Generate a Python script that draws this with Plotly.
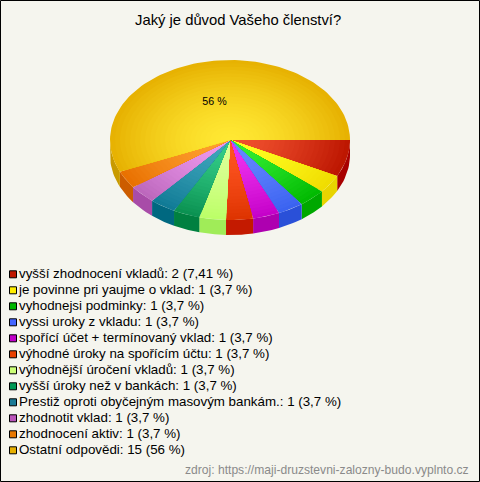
import math
import plotly.graph_objects as go

labels = ["vyšší zhodnocení vkladů", "je povinne pri yaujme o vklad", "vyhodnejsi podminky",
          "vyssi uroky z vkladu", "spořící účet + termínovaný vklad", "výhodné úroky na spořícím účtu",
          "výhodnější úročení vkladů", "vyšší úroky než v bankách",
          "Prestiž oproti obyčejným masovým bankám.", "zhodnotit vklad", "zhodnocení aktiv", "Ostatní odpovědi"]
counts = [2, 1, 1, 1, 1, 1, 1, 1, 1, 1, 1, 15]
shares = ["7,41 %", "3,7 %", "3,7 %", "3,7 %", "3,7 %", "3,7 %", "3,7 %", "3,7 %", "3,7 %", "3,7 %", "3,7 %", "56 %"]
# slice sizes as drawn in the picture, in degrees
drawn_sweeps = [26.7, 13.3, 13.3, 12.6, 13.0, 13.0, 12.9, 13.0, 12.7, 13.4, 12.7, 203.4]
inner_colors = ["#f0502e", "#ffff22", "#33ee33", "#6688ff", "#ee33ee", "#ff5522", "#ddff99", "#33cc88",
                "#3fa5bb", "#ee99ee", "#ffa030", "#ffe833"]
outer_colors = ["#bb1500", "#f0dc00", "#00b800", "#3a62f0", "#c400c8", "#dd3300", "#bbff66", "#0a9050",
                "#107a95", "#bb66bb", "#e87000", "#e6b000"]
side_colors = ["#a80000", "#e8d400", "#00a800", "#2a50d8", "#ae00b0", "#c41a00", "#a0ec58", "#008040",
               "#006880", "#a84ca8", "#cc5c00", "#c89a00"]
swatch_colors = ["#c01800", "#ffee00", "#00b800", "#4466ff", "#c000c8", "#e84000", "#ccff77", "#009955",
                 "#1a7a95", "#bb55bb", "#e87800", "#e6b000"]
title = "Jaký je důvod Vašeho členství?"
source = "zdroj: https://maji-druzstevni-zalozny-budo.vyplnto.cz"
big_label = "56 %"

CX, CY, RX, RY, DEPTH = 230, 140, 120, 80, 15
BANDS = 24
BG = "#f5f5ee"


def mix(a, b, t):
    ca = [int(a[i:i + 2], 16) for i in (1, 3, 5)]
    cb = [int(b[i:i + 2], 16) for i in (1, 3, 5)]
    return "rgb(%d,%d,%d)" % tuple(round(p + (q - p) * t) for p, q in zip(ca, cb))


def arc(a0, a1, frac, dy=0.0):
    n = max(2, int(abs(a1 - a0) / 2) + 2)
    pts = [a0 + (a1 - a0) * i / (n - 1) for i in range(n)]
    return ([CX + RX * frac * math.cos(math.radians(a)) for a in pts],
            [CY + dy + RY * frac * math.sin(math.radians(a)) for a in pts])


fig = go.Figure()


def poly(xs, ys, color):
    fig.add_trace(go.Scatter(x=xs, y=ys, mode="lines", fill="toself", fillcolor=color,
                             line=dict(color=color, width=0), hoverinfo="skip", showlegend=False))


edges = [0.0]
for s in drawn_sweeps:
    edges.append(edges[-1] + s)

for i in range(len(drawn_sweeps)):
    a0, a1 = edges[i], min(edges[i + 1], 180.0)
    if a1 > a0:
        x0, y0 = arc(a0, a1, 1.0)
        x1, y1 = arc(a0, a1, 1.0, DEPTH)
        poly(x0 + x1[::-1] + [x0[0]], y0 + y1[::-1] + [y0[0]], side_colors[i])

for i in range(len(drawn_sweeps)):
    a0, a1 = edges[i], edges[i + 1]
    for b in range(BANDS, 0, -1):
        f = b / BANDS
        xa, ya = arc(a0, a1, f)
        color = mix(inner_colors[i], outer_colors[i], ((b - 0.5) / BANDS) ** 1.5)
        poly([CX] + xa + [CX], [CY] + ya + [CY], color)

fig.add_trace(go.Scatter(x=[214.5], y=[102], mode="text", text=[big_label], textposition="middle center",
                         textfont=dict(family="Liberation Sans", size=10.67, color="#000000"),
                         hoverinfo="skip", showlegend=False))

rows = list(range(len(labels)))
legend_y = [274.3 + 16 * r for r in rows]
legend_text = ["%s: %d (%s)" % (labels[r], counts[r], shares[r]) for r in rows]
fig.add_trace(go.Scatter(x=[13] * len(rows), y=legend_y, mode="markers",
                         marker=dict(symbol="square", size=7, color=swatch_colors,
                                     line=dict(color="#000000", width=1)),
                         hoverinfo="skip", showlegend=False))
fig.add_trace(go.Scatter(x=[19] * len(rows), y=legend_y, mode="text", text=legend_text,
                         textposition="middle right",
                         textfont=dict(family="Liberation Sans", size=13.33, color="#000000"),
                         hoverinfo="skip", showlegend=False))

fig.add_annotation(x=238, y=20, text=title, showarrow=False, xref="x", yref="y",
                   font=dict(family="Liberation Sans", size=14.8, color="#000000"))
fig.add_annotation(x=470.5, y=470, text=source, showarrow=False, xanchor="right", xref="x", yref="y",
                   font=dict(family="Liberation Sans", size=12.1, color="#8a8a8a"))

fig.update_layout(width=480, height=482, margin=dict(l=0, r=0, t=0, b=0), autosize=False,
                  paper_bgcolor=BG, plot_bgcolor=BG, showlegend=False,
                  xaxis=dict(range=[0, 480], visible=False, fixedrange=True),
                  yaxis=dict(range=[482, 0], visible=False, fixedrange=True),
                  shapes=[dict(type="rect", xref="x", yref="y", x0=0.5, y0=0.5, x1=479.5, y1=481.5,
                               line=dict(color="#000000", width=1), fillcolor="rgba(0,0,0,0)")])
fig.write_html("out.html", config=dict(displayModeBar=False),
               post_script="document.documentElement.style.overflow='hidden';document.body.style.margin='0';")
